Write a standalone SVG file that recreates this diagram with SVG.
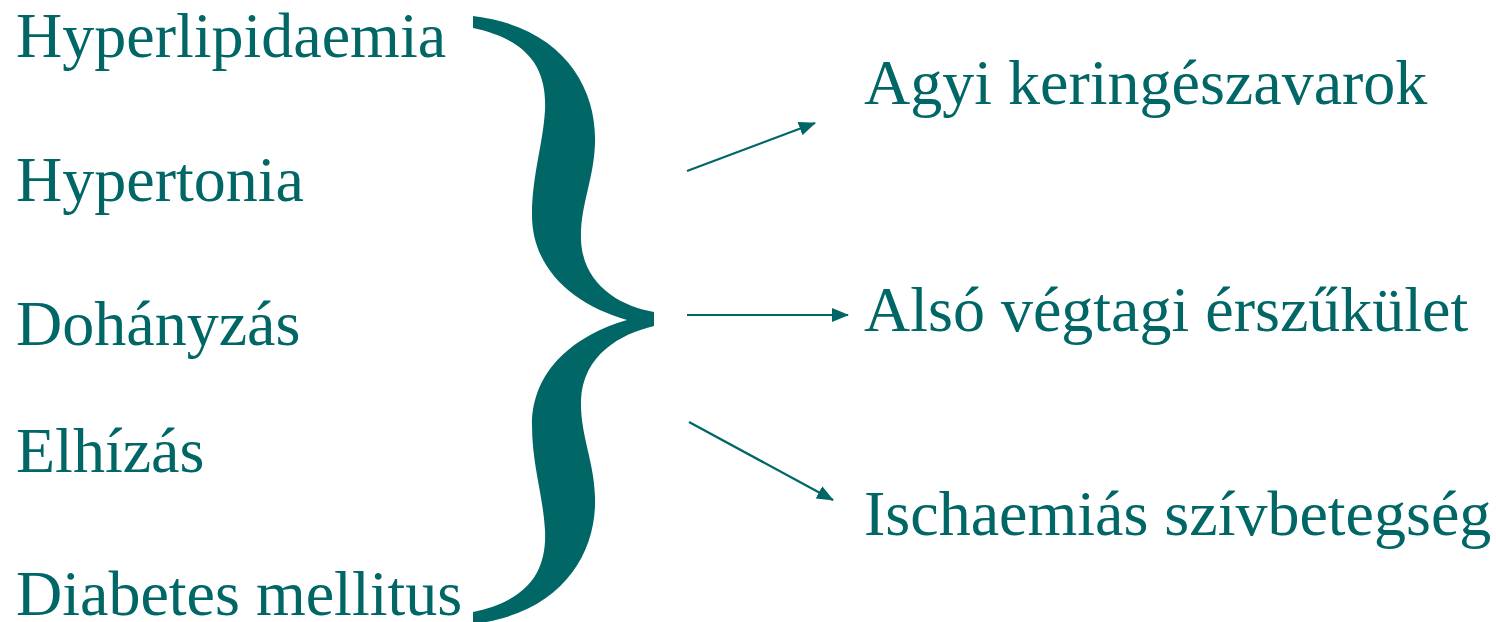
<svg xmlns="http://www.w3.org/2000/svg" width="1496" height="622" viewBox="0 0 1496 622">
  <style>
    .lbl { font-family: "Liberation Serif", "Times New Roman", serif; font-size: 64px; fill: #006666; }
    .conn { stroke: #006666; stroke-width: 2.2; fill: none; }
  </style>
  <defs>
    <marker id="arrow" markerUnits="userSpaceOnUse" markerWidth="18" markerHeight="14" refX="16" refY="7" orient="auto">
      <path d="M0,0 L17,7 L0,14 Z" fill="#006666"/>
    </marker>
  </defs>
  <rect width="1496" height="622" fill="#ffffff"/>

  <!-- risk factors -->
  <g id="risk-hyperlipidaemia"><text class="lbl" x="16" y="57">Hyperlipidaemia</text></g>
  <g id="risk-hypertonia"><text class="lbl" x="16" y="201">Hypertonia</text></g>
  <g id="risk-dohanyzas"><text class="lbl" x="16" y="345">Dohányzás</text></g>
  <g id="risk-elhizas"><text class="lbl" x="16" y="472">Elhízás</text></g>
  <g id="risk-diabetes"><text class="lbl" x="16" y="615">Diabetes mellitus</text></g>

  <!-- curly brace grouping the risk factors -->
  <g id="brace">
    <path fill="#006666" d="M473,16 C560,26 597,85 595,143 C594,180 580,205 581,240 C583,285 620,306 654,312 L654,326 C620,334 583,355 581,400 C580,435 594,460 595,497 C597,555 560,614 473,624 L473,612 C530,600 547,570 545,530 C543,495 532,465 532,425 C532,370 575,335 627,320 C575,305 532,270 532,215 C532,175 543,145 545,110 C547,70 530,40 473,28 Z"/>
  </g>

  <!-- outcomes -->
  <g id="out-agyi"><text class="lbl" x="864" y="104">Agyi keringészavarok</text></g>
  <g id="out-also"><text class="lbl" x="864" y="331">Alsó végtagi érszűkület</text></g>
  <g id="out-isch"><text class="lbl" x="864" y="535">Ischaemiás szívbetegség</text></g>

  <!-- connectors -->
  <g id="connectors">
    <line class="conn" x1="687" y1="171" x2="815" y2="123" marker-end="url(#arrow)"/>
    <line class="conn" x1="687" y1="315" x2="848" y2="315" marker-end="url(#arrow)"/>
    <line class="conn" x1="689" y1="422" x2="833" y2="500" marker-end="url(#arrow)"/>
  </g>
</svg>
